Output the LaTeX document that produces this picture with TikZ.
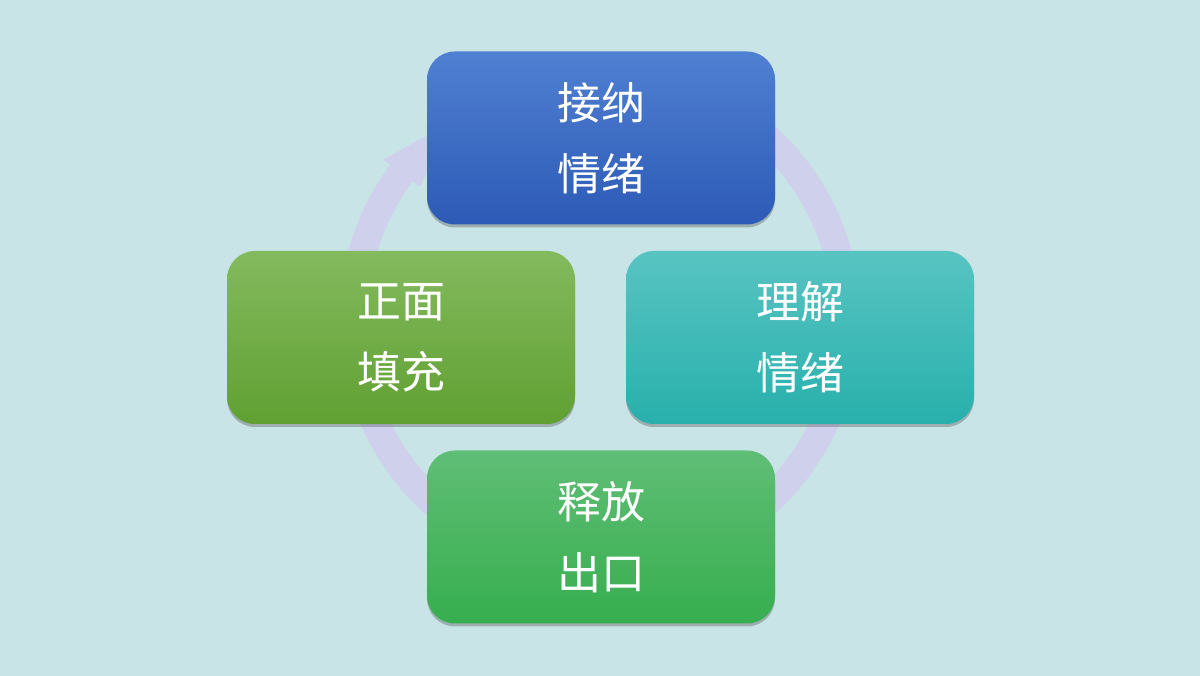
\documentclass[tikz,border=0pt]{standalone}
\usepackage{fontspec}
\newfontfamily\cjk{Noto Sans CJK SC}
\usetikzlibrary{shadows,calc}
\definecolor{bgc}{RGB}{200,228,230}
\definecolor{ringc}{RGB}{206,208,236}
\definecolor{blueT}{RGB}{80,128,210}
\definecolor{blueB}{RGB}{44,90,182}
\definecolor{tealT}{RGB}{88,196,194}
\definecolor{tealB}{RGB}{40,176,172}
\definecolor{lgrnT}{RGB}{132,186,94}
\definecolor{lgrnB}{RGB}{96,160,50}
\definecolor{grnT}{RGB}{96,190,118}
\definecolor{grnB}{RGB}{54,174,78}
\tikzset{
  cyclebox/.style={rounded corners=28pt, minimum width=348pt, minimum height=173pt,
    inner sep=0pt, align=center, text=white,
    font=\cjk\fontsize{44pt}{71pt}\selectfont,
    drop shadow={shadow xshift=0pt, shadow yshift=-3pt, opacity=0.35, fill=black!70}},
  ringline/.style={draw=ringc, line width=28pt},
}
\begin{document}
\begin{tikzpicture}[x=1pt,y=1pt]
\fill[bgc] (0,0) rectangle (1200,676);
\useasboundingbox (0,0) rectangle (1200,676);
\coordinate (c) at (600,356);
% ring
\draw[ringline] ($(c)+(143.5:247)$) arc[start angle=143.5, end angle=450, radius=247];
\coordinate (barbO) at ($(c)+(143.5:270)$);
\coordinate (barbI) at ($(c)+(143.5:224)$);
\coordinate (tip) at ($(c)+(127:247)$);
\fill[ringc] (barbO) -- (tip) -- (barbI) -- cycle;
% boxes
\node[cyclebox, top color=blueT, bottom color=blueB] (top) at (601,538) {接纳\\情绪};
\node[cyclebox, top color=tealT, bottom color=tealB] (right) at (800,338.5) {理解\\情绪};
\node[cyclebox, top color=grnT, bottom color=grnB] (bottom) at (601,139) {释放\\出口};
\node[cyclebox, top color=lgrnT, bottom color=lgrnB] (left) at (401,338.5) {正面\\填充};
\end{tikzpicture}
\end{document}
